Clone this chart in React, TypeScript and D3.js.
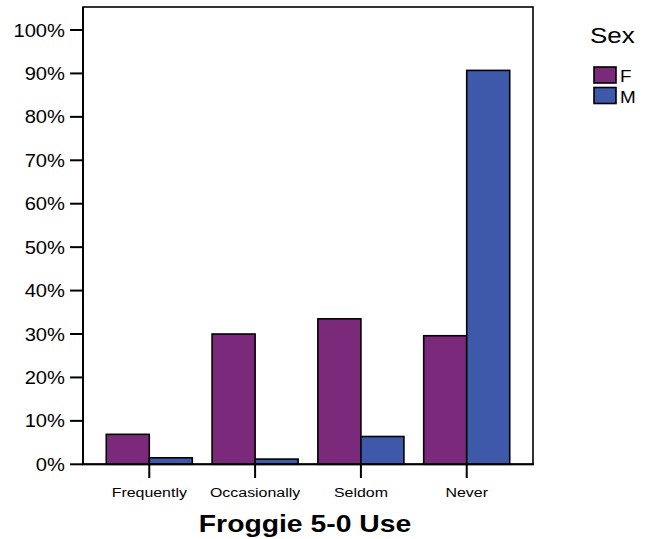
import React from "react";
import * as d3 from "d3";

const categories = ["Frequently", "Occasionally", "Seldom", "Never"];
const sexes = ["F", "M"];
const femaleValues = [0.069, 0.30, 0.335, 0.296];
const maleValues = [0.015, 0.012, 0.064, 0.907];
const yTicks = [0, 0.1, 0.2, 0.3, 0.4, 0.5, 0.6, 0.7, 0.8, 0.9, 1.0];
const colors = ["#7b2a7b", "#3e58aa"];
const title = "Froggie 5-0 Use";
const legendTitle = "Sex";

const W = 654;
const H = 539;
const L = 83;
const R = 533;
const TOP = 7;
const BOTTOM = 464.3;

function SText({ x, y, anchor, size, weight, sx, children }: any) {
  return (
    <text
      transform={`translate(${x},${y}) scale(${sx || 1.18},1)`}
      textAnchor={anchor}
      fontSize={size}
      fontWeight={weight || "normal"}
      fontFamily="Liberation Sans, Arial, sans-serif"
      fill="#000"
    >
      {children}
    </text>
  );
}

export default function App() {
  const y = d3.scaleLinear().domain([0, 1]).range([BOTTOM, 30]);
  const x = d3
    .scaleBand<string>()
    .domain(categories)
    .range([L, R])
    .paddingInner(0.187)
    .paddingOuter(0.22);
  const xs = d3.scaleBand<string>().domain(sexes).range([0, x.bandwidth()]);
  const series = [femaleValues, maleValues];

  return (
    <svg
      width={W}
      height={H}
      style={{ position: "absolute", left: 0, top: 0, background: "#fff" }}
    >
      <rect x={0} y={0} width={W} height={H} fill="#fff" />
      {categories.map((c, i) =>
        sexes.map((s, j) => {
          const v = series[j][i];
          const bx = (x(c) as number) + (xs(s) as number);
          return (
            <rect
              key={c + s}
              x={bx}
              y={y(v)}
              width={xs.bandwidth()}
              height={BOTTOM - y(v)}
              fill={colors[j]}
              stroke="#000"
              strokeWidth={1.6}
            />
          );
        })
      )}
      <rect x={L} y={TOP} width={R - L} height={BOTTOM - TOP} fill="none" stroke="#000" strokeWidth={1.6} />
      <line x1={L} x2={L} y1={TOP} y2={BOTTOM} stroke="#000" strokeWidth={2} />
      <line x1={L - 1} x2={R + 1} y1={BOTTOM} y2={BOTTOM} stroke="#000" strokeWidth={2} />
      {yTicks.map((t) => (
        <g key={t}>
          <line x1={70} x2={L} y1={y(t)} y2={y(t)} stroke="#000" strokeWidth={2} />
          <SText x={65} y={y(t) + 6.5} anchor="end" size={18} sx={1.12}>
            {d3.format(".0%")(t)}
          </SText>
        </g>
      ))}
      {categories.map((c) => {
        const cx = (x(c) as number) + x.bandwidth() / 2;
        return (
          <g key={c}>
            <line x1={cx} x2={cx} y1={BOTTOM} y2={478} stroke="#000" strokeWidth={2} />
            <SText x={cx} y={496.5} anchor="middle" size={13.5}>
              {c}
            </SText>
          </g>
        );
      })}
      <SText x={305} y={531.5} anchor="middle" size={24} weight="bold">
        {title}
      </SText>
      <SText x={590} y={43} anchor="start" size={22}>
        {legendTitle}
      </SText>
      {sexes.map((s, j) => (
        <g key={s}>
          <rect
            x={594}
            y={67 + j * 20.5}
            width={22}
            height={16}
            fill={colors[j]}
            stroke="#000"
            strokeWidth={1.6}
          />
          <SText x={620} y={82 + j * 20.5} anchor="start" size={16}>
            {s}
          </SText>
        </g>
      ))}
    </svg>
  );
}
